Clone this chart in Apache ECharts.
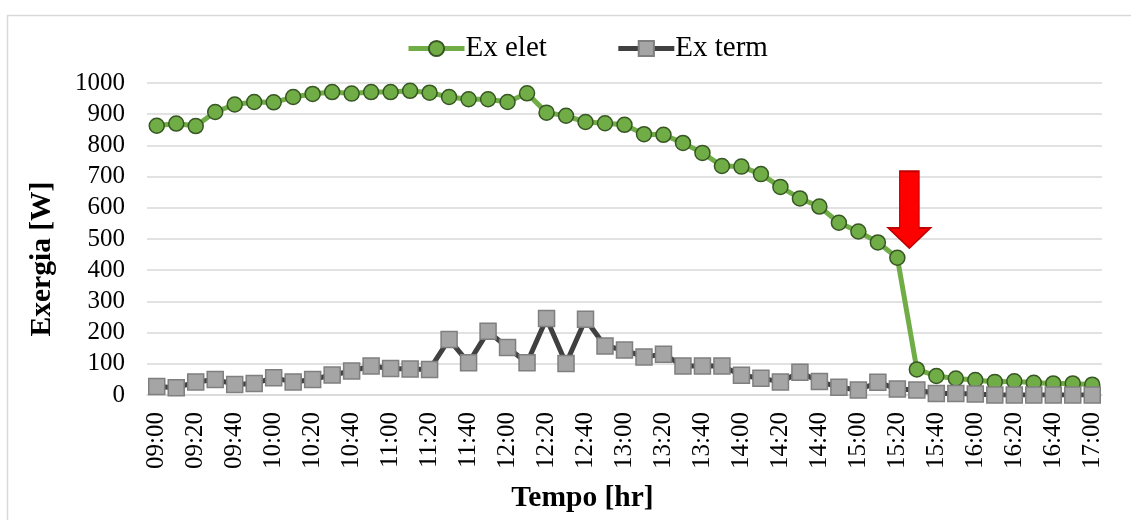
<!DOCTYPE html>
<html>
<head>
<meta charset="utf-8">
<title>Exergia</title>
<script src="https://cdn.jsdelivr.net/npm/echarts@6/dist/echarts.min.js"></script>
<style>
    html, body { margin: 0; padding: 0; background: #fff; }
    #main { width: 1131px; height: 520px; }
</style>
</head>
<body>
<div id="main"></div>
<script>
    // horario (a cada 10 min)
    var tempo = ['09:00', '09:10', '09:20', '09:30', '09:40', '09:50',
        '10:00', '10:10', '10:20', '10:30', '10:40', '10:50',
        '11:00', '11:10', '11:20', '11:30', '11:40', '11:50',
        '12:00', '12:10', '12:20', '12:30', '12:40', '12:50',
        '13:00', '13:10', '13:20', '13:30', '13:40', '13:50',
        '14:00', '14:10', '14:20', '14:30', '14:40', '14:50',
        '15:00', '15:10', '15:20', '15:30', '15:40', '15:50',
        '16:00', '16:10', '16:20', '16:30', '16:40', '16:50', '17:00'];

    var exElet = [863, 870, 862, 907, 931, 939, 938, 955, 965, 971, 966, 971,
        971, 975, 969, 955, 948, 948, 939, 967, 905, 895, 875, 871,
        866, 836, 834, 808, 776, 734, 732, 708, 667, 630, 604, 552,
        524, 489, 440, 82, 61, 53, 48, 42, 44, 39, 37, 37, 33];

    var exTerm = [27, 23, 42, 50, 34, 37, 55, 42, 50, 64, 77, 93,
        85, 83, 82, 178, 103, 204, 152, 103, 245, 101, 243, 157,
        144, 122, 131, 93, 93, 93, 63, 54, 42, 73, 43, 25,
        16, 41, 19, 16, 5, 5, 3, 0, 0, 0, 0, 0, 0];

    var yTicks = [0, 1000, 100]; // min, max, intervalo

    var fonte = "'Liberation Serif', 'Times New Roman', serif";
    var seta = 'path://M11,0 L30,0 L30,56 L41,56 L20.5,76 L0,56 L11,56 Z';

    var chart = echarts.init(document.getElementById('main'));
    var option = {
        backgroundColor: '#fff',
        textStyle: { fontFamily: fonte, color: '#000' },
        animation: false,
        graphic: [{
            type: 'rect',
            shape: { x: 7.5, y: 15.5, width: 1200, height: 600 },
            style: { fill: 'none', stroke: '#d9d9d9', lineWidth: 1.5 },
            silent: true
        }],
        legend: {
            left: 401,
            top: 29,
            itemWidth: 56,
            itemHeight: 19,
            itemGap: 69,
            lineStyle: { width: 5 },
            textStyle: { fontFamily: fonte, fontSize: 29, color: '#000', padding: [0, 0, 0, -4] },
            data: ['Ex elet', 'Ex term']
        },
        grid: { left: 147, right: 29, top: 83, bottom: 125, containLabel: false },
        xAxis: {
            type: 'category',
            data: tempo,
            boundaryGap: true,
            name: 'Tempo [hr]',
            nameLocation: 'middle',
            nameGap: 88,
            nameTextStyle: { fontFamily: fonte, fontSize: 29.5, fontWeight: 'bold', color: '#000', padding: [0, 84, 0, 0] },
            axisLine: { show: true, lineStyle: { color: '#d9d9d9', width: 1.5 } },
            axisTick: { show: false },
            axisLabel: {
                interval: 1,
                rotate: 90,
                margin: 17,
                fontFamily: fonte,
                fontSize: 25,
                color: '#000'
            }
        },
        yAxis: {
            type: 'value',
            min: yTicks[0],
            max: yTicks[1],
            interval: yTicks[2],
            name: 'Exergia [W]',
            nameLocation: 'middle',
            nameRotate: 90,
            nameGap: 90,
            nameTextStyle: { fontFamily: fonte, fontSize: 29.5, fontWeight: 'bold', color: '#000', padding: [0, 40, 0, 0] },
            axisLine: { show: false },
            axisTick: { show: false },
            splitLine: { lineStyle: { color: '#d9d9d9', width: 1.5 } },
            axisLabel: {
                margin: 22, fontFamily: fonte, fontSize: 25, color: '#000',
                formatter: function (v) { return String(v); }
            }
        },
        series: [
            {
                name: 'Ex elet',
                type: 'line',
                data: exElet,
                symbol: 'circle',
                symbolSize: 15,
                showAllSymbol: true,
                lineStyle: { color: '#70ad47', width: 5 },
                itemStyle: { color: '#70ad47', borderColor: '#375623', borderWidth: 1.5 },
                markPoint: {
                    silent: true,
                    data: [{
                        coord: [38, 594],
                        symbol: seta,
                        symbolSize: [42, 77],
                        symbolOffset: [12, 0],
                        itemStyle: { color: '#ff0000', borderColor: '#c00000', borderWidth: 1.5 },
                        label: { show: false }
                    }]
                }
            },
            {
                name: 'Ex term',
                type: 'line',
                data: exTerm,
                symbol: 'rect',
                symbolSize: 16,
                showAllSymbol: true,
                lineStyle: { color: '#404040', width: 5 },
                itemStyle: { color: '#a5a5a5', borderColor: '#7f7f7f', borderWidth: 1.5 }
            }
        ]
    };
    chart.setOption(option);
    window.onresize = chart.resize;
</script>
</body>
</html>
